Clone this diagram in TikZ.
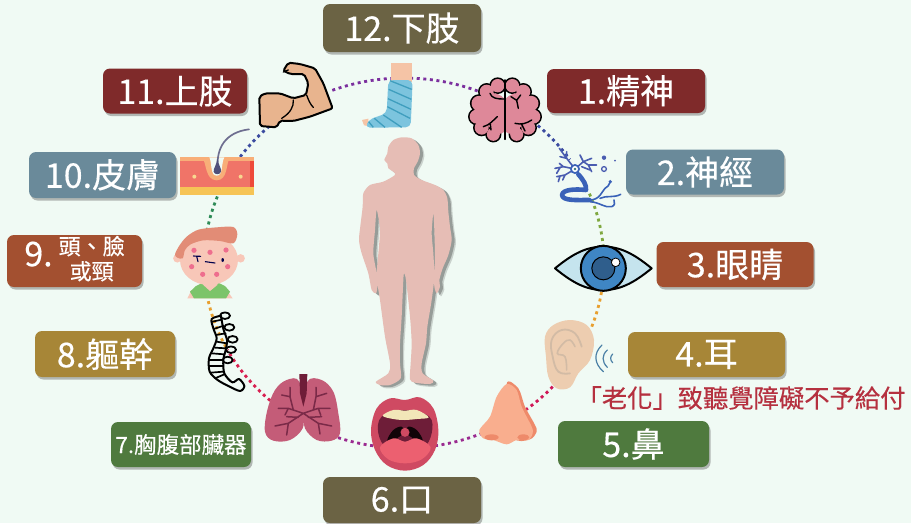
\documentclass[tikz,border=0pt]{standalone}
\usepackage{fontspec}
\setmainfont{Noto Sans CJK TC}[FakeBold=0.35]
\usetikzlibrary{shadows}
\definecolor{bgc}{HTML}{F0FAF4}
\definecolor{cOlive}{HTML}{6B6344}
\definecolor{cWine}{HTML}{7F2A2A}
\definecolor{cSlate}{HTML}{6A8A9A}
\definecolor{cRust}{HTML}{A35030}
\definecolor{cGold}{HTML}{A78637}
\definecolor{cGreen}{HTML}{4F7A3E}
\definecolor{cNote}{HTML}{B5303F}
\definecolor{bodyc}{HTML}{E6BDB5}
\definecolor{rPurple}{HTML}{7B2F9E}
\definecolor{rBlue}{HTML}{3B4BA0}
\definecolor{rLime}{HTML}{7FA83F}
\definecolor{rAmber}{HTML}{E8A030}
\definecolor{rCrimson}{HTML}{D01858}
\definecolor{rMagenta}{HTML}{9A2A90}
\definecolor{rRed}{HTML}{D82050}
\definecolor{rTeal}{HTML}{2E8B57}
\definecolor{brainc}{HTML}{DE8899}
\definecolor{neurc}{HTML}{3A62B8}
\definecolor{dendc}{HTML}{4A5CB0}
\definecolor{armc}{HTML}{E8B48E}
\definecolor{castc}{HTML}{7CC4DE}
\definecolor{castd}{HTML}{3F9EBE}
\definecolor{footc}{HTML}{F5C4A6}
\definecolor{earc}{HTML}{EDCDB0}
\definecolor{eard}{HTML}{D2BBA5}
\definecolor{nosec}{HTML}{F9AE8E}
\definecolor{nosed}{HTML}{EE8A6A}
\definecolor{lipc}{HTML}{CF4A62}
\definecolor{throatc}{HTML}{6E1D38}
\definecolor{teethc}{HTML}{F2E6B8}
\definecolor{tonguec}{HTML}{EC6070}
\definecolor{lungc}{HTML}{C45C78}
\definecolor{lungd}{HTML}{7A2A48}
\definecolor{kidskin}{HTML}{F8C7B8}
\definecolor{kidhair}{HTML}{E28C76}
\definecolor{kidspot}{HTML}{EE6E8E}
\definecolor{kidshirt}{HTML}{7CC46A}
\definecolor{sclera}{HTML}{C5E4EE}
\definecolor{irisc}{HTML}{3F86C4}
\definecolor{pupilc}{HTML}{2F5E8C}
\definecolor{skMain}{HTML}{F07468}
\definecolor{skTop}{HTML}{F8AE78}
\definecolor{skLow}{HTML}{F6C456}
\definecolor{skEdge}{HTML}{EE4A3A}
\definecolor{skDot}{HTML}{F8D890}
\definecolor{hairc}{HTML}{6E6E90}
\definecolor{bulbc}{HTML}{50507A}
\definecolor{waves}{HTML}{4A7FA5}
\tikzset{
  lab/.style={rounded corners=7pt,text=white,inner sep=0pt,
    font=\fontsize{34}{37}\selectfont,
    drop shadow={shadow xshift=1.5pt,shadow yshift=-2.5pt,fill=black!60,opacity=.45}},
  ringdot/.style={line width=2.8pt,dash pattern=on 3pt off 3.6pt},
  zoomed/.style={x=0.33333pt,y=-0.33333pt},
  ink/.style={draw=black,line width=2pt,line join=round},
  thinink/.style={line width=1.4pt,line cap=round},
}
\newcommand{\ringarc}[4]{%
  \pgfmathsetmacro\kk{4/3*tan((#4-#3)/4)}%
  \coordinate (#1a) at ({404+200*cos(#3)},{263+185*sin(#3)});
  \coordinate (#1b) at ({404+200*cos(#4)},{263+185*sin(#4)});
  \draw[ringdot,draw=#2] (#1a) .. controls
    ({404+200*(cos(#3)-\kk*sin(#3))},{263+185*(sin(#3)+\kk*cos(#3))}) and
    ({404+200*(cos(#4)+\kk*sin(#4))},{263+185*(sin(#4)-\kk*cos(#4))}) .. (#1b);}
\newcommand{\bodyshape}{plot[smooth cycle,tension=.45] coordinates {
 (185,22)(215,25)(235,45)(240,70)(233,95)(222,115)(222,135)(245,150)(285,165)(310,180)(322,205)(325,245)(330,290)(335,330)(325,375)(308,415)(298,450)(300,470)(290,490)(283,470)(283,440)(285,380)(283,300)(280,250)(275,310)(280,370)(283,440)(275,510)(262,590)(258,640)(245,700)(248,730)(280,752)(270,762)(225,758)(210,748)(212,700)(215,640)(210,560)(198,450)(192,430)(190,450)(185,560)(180,640)(180,700)(182,745)(150,765)(120,765)(108,755)(145,730)(150,700)(135,620)(120,510)(110,440)(115,370)(120,300)(110,240)(105,300)(100,370)(110,430)(112,470)(108,490)(95,480)(85,430)(65,370)(57,330)(62,280)(68,230)(70,190)(90,165)(130,155)(165,135)(160,125)(145,115)(142,100)(133,90)(142,70)(145,50)(160,30)}}
\begin{document}
\begin{tikzpicture}[x=1pt,y=-1pt]
\useasboundingbox (0,0) rectangle (911,523);
\fill[bgc] (0,0) rectangle (911,523);

% ---- ring segments (drawn first, icons sit on top)
\ringarc{seg-a}{rPurple}{249}{292}
\ringarc{seg-b}{rBlue}{312}{326}
\ringarc{seg-c}{rLime}{338}{356}
\ringarc{seg-d}{rAmber}{7}{21}
\ringarc{seg-e}{rCrimson}{38}{56}
\ringarc{seg-f}{rMagenta}{65}{82}
\ringarc{seg-g}{rMagenta}{97}{112}
\ringarc{seg-h}{rRed}{130}{152}
\ringarc{seg-i}{rAmber}{153}{170}
\ringarc{seg-j}{rTeal}{190}{203}
\ringarc{seg-k}{rBlue}{215}{230}

% ---- body
\begin{scope}[shift={(340,130)},zoomed]
  \fill[black!45!bgc,opacity=.35,shift={(13,9)}] \bodyshape;
  \fill[black!55!bgc,opacity=.55,shift={(9,5)}] \bodyshape;
  \fill[bodyc] \bodyshape;
\end{scope}

% ---- foot
\begin{scope}[shift={(340,50)},zoomed]
  \fill[footc] (152,40) rectangle (215,95);
  \fill[footc] (66,210) -- (85,206) -- (85,228) -- (72,226) -- cycle;
  \fill[castc,rounded corners=5pt] (145,90) -- (218,90) -- (212,232) -- (75,233) -- (88,208) -- (140,190) -- cycle;
  \draw[castd,line width=1.3pt]
    (150,92)--(215,118) (146,118)--(214,148) (144,146)--(213,178) (142,170)--(210,205)
    (130,195)--(185,232) (103,205)--(135,232) (86,215)--(100,232);
  \coordinate (footicon) at (180,130);
\end{scope}

% ---- brain
\begin{scope}[shift={(465,75)},zoomed]
  \foreach \x/\y/\r in {98/32/6.7,65/50/7,42/85/7.5,35/125/7,50/158/7,85/178/6.5,
                        142/32/6.7,175/50/7,198/85/7.5,205/125/7,190/158/7,155/178/6.5}
     \draw[black,line width=3.2pt] (\x,\y) circle (\r pt);
  \foreach \x/\y/\r in {98/32/6.7,65/50/7,42/85/7.5,35/125/7,50/158/7,85/178/6.5,
                        142/32/6.7,175/50/7,198/85/7.5,205/125/7,190/158/7,155/178/6.5,
                        80/105/17,160/105/17,100/150/9,140/150/9}
     \fill[brainc] (\x,\y) circle (\r pt);
  \draw[black,line width=1.6pt,line cap=round] (120,15)--(120,193);
  \draw[black,thinink]
    (75,55)..controls (80,70) and (95,72)..(118,72)
    (97,125)..controls (85,135) and (75,150)..(55,155) (76,148)--(78,165)
    (138,65)--(155,76)--(167,60) (155,76)--(160,100)
    (200,135)..controls (185,145) and (170,150)..(150,145) (170,148)--(180,168);
  \coordinate (brainicon) at (120,105);
\end{scope}

% ---- neuron
\begin{scope}[shift={(550,145)},zoomed]
  \draw[dendc,line width=1.6pt,line cap=round,line join=round]
    (75,72)--(50,40)--(28,10) (50,40)--(30,35) (50,40)--(50,20)
    (75,72)--(40,65)--(15,70) (40,65)--(28,55) (30,68)--(20,85)
    (75,72)--(45,90)--(20,95) (30,93)--(25,110) (45,90)--(38,105)
    (75,72)--(100,50)--(125,40) (100,50)--(90,30) (100,50)--(115,60)--(140,60) (115,60)--(125,80) (95,65)--(120,75);
  \draw[neurc,line width=4.6pt,line cap=round,line join=round]
    (85,88)..controls (100,105) and (110,120)..(108,135)
    ..controls (80,132) and (38,132)..(36,150)..controls (38,168) and (80,165)..(118,165);
  \fill[neurc] (75,72) circle (5pt);
  \fill[white] (75,72) circle (3pt);
  \fill[rTeal!60!dendc] (75,72) circle (1.3pt);
  \draw[neurc,line width=1.6pt,line cap=round]
    (118,165)..controls (150,165) and (155,140)..(165,130)..controls (172,125) and (178,122)..(180,112)
    (150,160)..controls (170,150) and (190,160)..(212,148)
    (120,170)..controls (150,172) and (165,190)..(185,185)..controls (195,182) and (195,172)..(192,165);
  \fill[neurc] (181,110) circle (1.8pt);
  \fill[dendc] (162,38) circle (2.2pt) (195,47) circle (1pt);
  \draw[dendc,line width=1.3pt] (162,72) circle (2.4pt);
  \coordinate (neuronicon) at (85,100);
\end{scope}

% ---- eye, ear, nose
\begin{scope}[shift={(470,230)},zoomed]
  \draw[ink,fill=sclera] (255,115)..controls (310,70) and (350,50)..(400,50)
     ..controls (450,50) and (490,70)..(545,115)..controls (490,160) and (450,180)..(400,180)
     ..controls (350,180) and (310,160)..(255,115)--cycle;
  \draw[ink,fill=irisc] (400,115) circle (22.5pt);
  \draw[black,line width=1pt,fill=pupilc] (400,115) circle (11.5pt);
  \draw[black,line width=.8pt,fill=white] (437,97) circle (4.3pt);
  \coordinate (eyeicon) at (400,115);
  % ear
  \fill[earc] plot[smooth cycle,tension=.6] coordinates {(300,270)(350,285)(372,330)(360,390)(325,430)(300,472)(260,475)(235,440)(228,380)(225,320)(250,285)};
  \draw[eard,line width=1.8pt,line cap=round] plot[smooth,tension=.7] coordinates {(300,430)(265,425)(248,380)(245,330)(275,300)(315,310)(335,350)};
  \draw[eard,line width=1.6pt,line cap=round] plot[smooth,tension=.7] coordinates {(290,420)(285,380)(262,370)(280,340)(300,330)(315,350)};
  \coordinate (earicon) at (300,375);
  \draw[waves,line width=1.2pt,line cap=round]
    (396,345)..controls (370,370) and (372,400)..(400,425)
    (412,360)..controls (395,375) and (395,395)..(412,412)
    (428,372)..controls (420,380) and (420,390)..(428,398);
  % nose
  \fill[nosed] plot[smooth cycle,tension=.5] coordinates {(110,462)(145,475)(165,530)(195,585)(200,605)(180,628)(130,620)};
  \fill[nosec] plot[smooth cycle,tension=.5] coordinates {(110,462)(140,480)(155,530)(185,590)(188,610)(175,630)(140,630)(110,643)(70,630)(40,625)(28,600)(60,560)(80,500)};
  \fill[nosed] (65,622) ellipse (7pt and 3pt) (160,622) ellipse (6pt and 3pt);
  \coordinate (noseicon) at (110,570);
\end{scope}

% ---- mouth, lungs
\begin{scope}[shift={(190,300)},zoomed]
  \fill[lipc] plot[smooth cycle,tension=.6] coordinates {(600,295)(645,300)(690,292)(730,325)(745,390)(735,450)(700,495)(645,512)(590,495)(555,450)(543,390)(560,325)};
  \fill[throatc] plot[smooth cycle,tension=.6] coordinates {(575,350)(645,330)(718,350)(725,400)(700,445)(645,465)(590,445)(565,400)};
  \fill[teethc] plot[smooth cycle,tension=.6] coordinates {(578,347)(610,330)(645,332)(680,330)(716,352)(680,357)(645,360)(610,357)};
  \fill[black!85!throatc] plot[smooth cycle,tension=.6] coordinates {(592,420)(610,390)(635,380)(640,400)(625,412)(610,425)};
  \fill[black!85!throatc] plot[smooth cycle,tension=.6] coordinates {(698,420)(680,390)(655,380)(650,400)(665,412)(680,425)};
  \fill[lipc] (645,397) circle (4.5pt);
  \fill[tonguec] plot[smooth cycle,tension=.6] coordinates {(570,442)(610,415)(645,425)(680,415)(722,442)(695,478)(645,490)(595,478)};
  \coordinate (mouthicon) at (645,400);
  % lungs
  \fill[lungc] plot[smooth cycle,tension=.6] coordinates {(328,245)(290,240)(255,270)(232,330)(225,395)(250,422)(300,420)(338,385)(338,340)};
  \fill[lungc] plot[smooth cycle,tension=.6] coordinates {(352,245)(395,240)(430,275)(445,340)(450,400)(425,422)(380,420)(345,385)(345,340)};
  \fill[lungc] (328,300) rectangle (352,370);
  \fill[throatc] (328,222) -- (352,222) -- (350,280) -- (340,320) -- (330,280) -- cycle;
  \draw[lungd,line width=1.5pt,line cap=round,line join=round]
    (340,340)--(295,325)--(265,325) (295,325)--(285,345) (310,330)--(300,290)--(275,285) (300,262)--(300,290)
    (340,340)--(295,370)--(255,378) (295,370)--(290,405) (325,352)--(290,350)
    (340,340)--(385,325)--(420,325) (385,325)--(392,345) (370,330)--(378,290)--(410,280) (378,262)--(378,290)
    (340,340)--(385,370)--(425,378) (385,370)--(390,402) (355,352)--(395,350);
  \coordinate (lungicon) at (340,340);
\end{scope}

% ---- spine
\begin{scope}[shift={(195,305)},zoomed,line join=round,line cap=round]
  \foreach \x/\y/\rx/\ry in {90/32/5/3.3,103/67/5/3.3,113/103/5/3.3,108/134/5/3.3,98/165/5/3.3}
    \draw[black,line width=1.8pt] (\x,\y) ellipse (\rx pt and \ry pt);
  \draw[black,line width=2pt,fill=bgc,fill opacity=0] plot[smooth,tension=.5] coordinates {(78,32)(50,42)(55,70)(65,100)(55,130)(42,160)(44,200)(68,225)(100,243)(135,258)(148,243)(132,222)(112,232)(88,205)(85,165)(92,135)(96,105)(85,72)(78,32)};
  \draw[black,line width=1.7pt]
    (52,50)--(80,44) (56,72)--(86,62) (62,90)--(92,85) (65,110)--(95,115) (60,128)--(93,130)
    (50,145)--(88,148) (44,165)--(85,165) (42,183)--(85,183) (46,203)--(85,200) (60,220)--(88,208);
  \coordinate (spineicon) at (70,130);
\end{scope}

% ---- arm
\begin{scope}[shift={(150,50)},zoomed]
  \draw[ink,fill=armc,rounded corners=2pt] (400,62)--(415,38)--(450,42)--(495,55)--(520,100)--(548,175)--(480,200)--(430,213)--(390,212)--(380,232)--(330,228)--(328,140)--(345,130)--(390,130)--(430,145)--(468,135)--(475,100)--(462,72)--(420,72)--cycle;
  \draw[black,line width=1.3pt,line cap=round]
    (430,150)..controls (432,170) and (420,190)..(395,205)
    (470,135)..controls (475,150) and (482,165)..(490,172)
    (415,60)--(400,66);
  \coordinate (armicon) at (440,140);
\end{scope}

% ---- skin section
\begin{scope}[shift={(175,125)},zoomed]
  \fill[skMain] (15,97) rectangle (237,187);
  \fill[skLow] (15,187) rectangle (237,210);
  \fill[skTop] (15,97) rectangle (237,108);
  \fill[skEdge] (226,108) rectangle (237,187);
  \fill[skTop] (82,97) .. controls (95,115) and (90,165) .. (125,166) .. controls (160,165) and (152,115) .. (165,97) -- cycle;
  \fill[bgc] (103,97) .. controls (112,115) and (105,152) .. (125,152) .. controls (145,152) and (138,115) .. (148,97) -- cycle;
  \draw[hairc,line width=1.7pt,line cap=round] (128,125) .. controls (125,70) and (150,22) .. (222,13);
  \fill[bulbc] (127,100) .. controls (130,120) and (140,130) .. (138,140) .. controls (135,150) and (118,150) .. (116,140) .. controls (115,130) and (125,120) .. (127,100) -- cycle;
  \fill[skDot] (58,155) circle (2pt) (197,155) circle (2pt);
  \coordinate (skinicon) at (125,150);
\end{scope}

% ---- child's head
\begin{scope}[shift={(170,225)},zoomed]
  \fill[kidskin] (52,220) -- (65,195) -- (170,195) -- (188,220) -- cycle;
  \fill[kidshirt] (72,220) -- (60,200) -- (78,183) -- (100,172) -- (142,172) -- (165,183) -- (180,200) -- (168,220) -- cycle;
  \fill[kidskin] (97,165) -- (145,165) -- (142,180) -- (120,198) -- (100,180) -- cycle;
  \fill[kidskin] (22,100) circle (4.2pt) (212,100) circle (4.2pt);
  \fill[kidskin] (117,105) ellipse (29pt and 25pt);
  \fill[kidhair] plot[smooth cycle,tension=.5] coordinates {(15,88)(28,62)(50,35)(85,14)(140,7)(190,6)(202,28)(190,55)(150,48)(100,46)(62,58)(45,75)(38,100)(22,98)};
  \foreach \x/\y in {72/76,120/82,168/75,65/125,173/125,98/148,140/148}
    \fill[kidspot] (\x,\y) circle (2.6pt);
  \draw[black!70!blue,line width=1.1pt,line cap=round]
    (70,93)--(92,94) (80,94)--(84,110) (106,110)--(135,114);
  \fill[black!70!blue] (158,105) ellipse (1.3pt and 2pt);
  \coordinate (kidicon) at (117,105);
\end{scope}

% ---- labels
\node[lab,fill=cOlive,minimum width=158pt,minimum height=48pt] (l12) at (402,28) {12.下肢};
\node[lab,fill=cWine,minimum width=144pt,minimum height=45pt] (l11) at (175,91) {11.上肢};
\node[lab,fill=cWine,minimum width=158pt,minimum height=44pt] (l1) at (626,91) {1.精神};
\node[lab,fill=cSlate,minimum width=158pt,minimum height=45pt] (l2) at (705,172) {2.神經};
\node[lab,fill=cRust,minimum width=157pt,minimum height=45pt] (l3) at (735,264.5) {3.眼睛};
\node[lab,fill=cGold,minimum width=157pt,minimum height=45pt] (l4) at (706.5,354.5) {4.耳};
\node[lab,fill=cGreen,minimum width=151pt,minimum height=46pt] (l5) at (633.5,444) {5.鼻};
\node[lab,fill=cOlive,minimum width=158pt,minimum height=46pt] (l6) at (402,500) {6.口};
\node[lab,fill=cGreen,minimum width=140pt,minimum height=45pt,font=\fontsize{22.5}{25}\selectfont] (l7) at (181,444.5) {7.胸腹部臟器};
\node[lab,fill=cGold,minimum width=140pt,minimum height=46pt] (l8) at (105,354) {8.軀幹};
\node[lab,fill=cRust,minimum width=135pt,minimum height=52pt] (l9) at (74.5,261) {\raisebox{-5pt}{9.\hspace{6pt}{\fontsize{22}{24}\selectfont\renewcommand{\arraystretch}{.92}\begin{tabular}[c]{@{}c@{}}頭、臉\\或頸\end{tabular}}}};
\node[lab,fill=cSlate,minimum width=147pt,minimum height=46pt] (l10) at (102.5,175) {10.皮膚};
\node[text=cNote,inner sep=0pt,font=\fontsize{25.3}{28}\selectfont] (note) at (741,398) {「老化」致聽覺障礙不予給付};
\end{tikzpicture}
\end{document}
